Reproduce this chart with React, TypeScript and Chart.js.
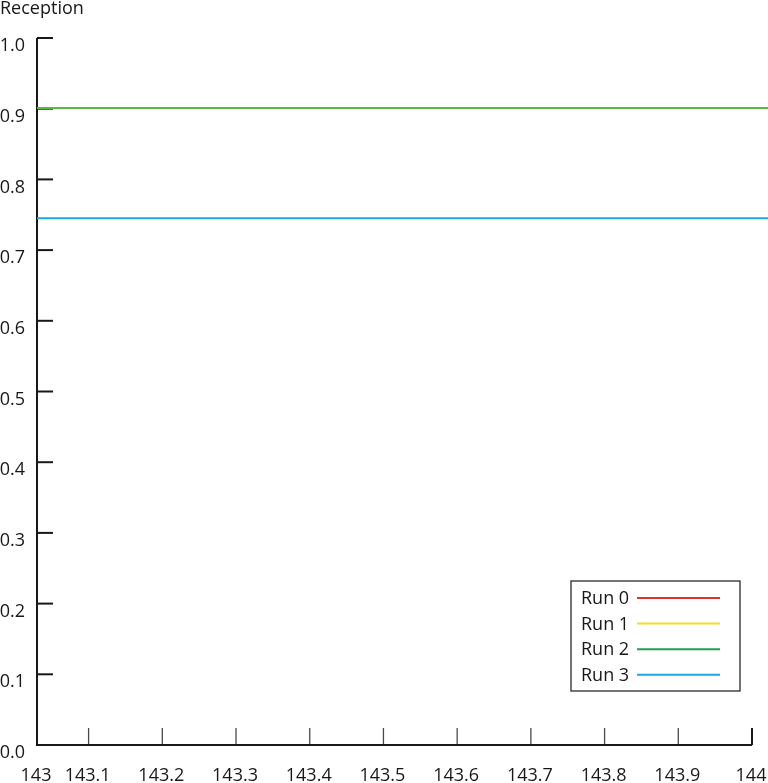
import { useEffect, useRef } from "react";
import { Chart, registerables } from "chart.js";

Chart.register(...registerables);

// axis starts a hair after 143 in the original figure, but is labelled "143"
const X_MIN = 143.03;
const X_MAX = 144;
const X_TICKS = [X_MIN, 143.1, 143.2, 143.3, 143.4, 143.5, 143.6, 143.7, 143.8, 143.9, 144];
const X_TICK_LABELS = ["143", "143.1", "143.2", "143.3", "143.4", "143.5", "143.6", "143.7", "143.8", "143.9", "144"];
const Y_TICKS = [0, 0.1, 0.2, 0.3, 0.4, 0.5, 0.6, 0.7, 0.8, 0.9, 1.0];

const RUN_LABELS = ["Run 0", "Run 1", "Run 2", "Run 3"];
const RUN_COLORS = ["#E2332B", "#F5DF1C", "#58BA3F", "#1AA9DF"];
const LEGEND_COLORS = ["#E2332B", "#F5DF1C", "#1EA24E", "#1AA9DF"];

// reception per run (runs 0 and 1 show no visible line)
const RUN_X = [143.03, 144.05];
const RUN0: number[] = [];
const RUN1: number[] = [];
const RUN2 = [0.901, 0.901];
const RUN3 = [0.745, 0.745];
const RUN_VALUES = [RUN0, RUN1, RUN2, RUN3];

const FONT = "'Open Sans', 'Noto Sans', sans-serif";
const INK = "#1a1718";

const axisPlugin = {
  id: "handAxes",
  beforeDatasetsDraw(chart: Chart) {
    const { ctx, scales } = chart;
    const xs = scales.x;
    const ys = scales.y;
    const left = xs.getPixelForValue(X_MIN);
    const right = xs.getPixelForValue(X_MAX);
    const bottom = ys.getPixelForValue(0);
    const top = ys.getPixelForValue(1);
    ctx.save();
    ctx.strokeStyle = INK;
    ctx.lineCap = "butt";

    // y ticks point into the plot
    ctx.lineWidth = 2;
    Y_TICKS.forEach(v => {
      if (v === 0) return;
      const y = ys.getPixelForValue(v);
      ctx.beginPath();
      ctx.moveTo(left, y);
      ctx.lineTo(left + 16, y);
      ctx.stroke();
    });

    // x ticks point up
    X_TICKS.forEach((v, i) => {
      if (i === 0) return;
      const x = xs.getPixelForValue(v);
      const last = i === X_TICKS.length - 1;
      ctx.lineWidth = last ? 2 : 1.3;
      ctx.strokeStyle = last ? INK : "#4a4a4a";
      ctx.beginPath();
      ctx.moveTo(x, bottom);
      ctx.lineTo(x, bottom - 17);
      ctx.stroke();
    });

    ctx.strokeStyle = INK;
    ctx.lineWidth = 2;
    ctx.beginPath();
    ctx.moveTo(left, top);
    ctx.lineTo(left, bottom);
    ctx.lineTo(right, bottom);
    ctx.stroke();
    ctx.restore();
  },
};

const legendPlugin = {
  id: "boxLegend",
  afterDraw(chart: Chart) {
    const { ctx, chartArea } = chart;
    const boxRight = chartArea.right - 12;
    const boxBottom = chartArea.bottom - 54;
    const boxW = 169;
    const boxH = 110;
    const boxLeft = boxRight - boxW;
    const boxTop = boxBottom - boxH;
    ctx.save();
    ctx.fillStyle = "#ffffff";
    ctx.fillRect(boxLeft, boxTop, boxW, boxH);
    ctx.strokeStyle = INK;
    ctx.lineWidth = 1.2;
    ctx.strokeRect(boxLeft, boxTop, boxW, boxH);
    ctx.font = `18px ${FONT}`;
    ctx.textBaseline = "middle";
    ctx.textAlign = "left";
    chart.data.datasets.forEach((ds, i) => {
      const y = boxTop + 17 + i * 25.6;
      ctx.fillStyle = INK;
      ctx.fillText(ds.label ?? "", boxLeft + 10, y + 1);
      ctx.strokeStyle = LEGEND_COLORS[i];
      ctx.lineWidth = 2;
      ctx.beginPath();
      ctx.moveTo(boxLeft + 66, y);
      ctx.lineTo(boxLeft + 149, y);
      ctx.stroke();
    });
    ctx.restore();
  },
};

export default function App() {
  const chartRef = useRef<HTMLCanvasElement>(null);
  const chartInstance = useRef<Chart | null>(null);

  useEffect(() => {
    document.body.style.margin = "0";
    if (!chartRef.current) return;
    if (chartInstance.current) {
      chartInstance.current.destroy();
    }
    const ctx = chartRef.current.getContext("2d");
    if (!ctx) return;

    chartInstance.current = new Chart(ctx, {
      type: "line",
      data: {
        datasets: RUN_LABELS.map((label, i) => ({
          label,
          data: RUN_VALUES[i].map((y, j) => ({ x: RUN_X[j], y })),
          borderColor: RUN_COLORS[i],
          backgroundColor: RUN_COLORS[i],
          borderWidth: 2,
          pointRadius: 0,
          clip: false,
          order: 3 - i,
        })),
      },
      plugins: [axisPlugin, legendPlugin],
      options: {
        responsive: true,
        maintainAspectRatio: false,
        animation: false,
        layout: { padding: { left: 0, right: 16, top: 0, bottom: 0 } },
        plugins: {
          legend: { display: false },
          tooltip: { enabled: false },
          title: {
            display: true,
            text: "Reception",
            align: "start",
            color: INK,
            font: { family: FONT, size: 18, weight: "normal", lineHeight: 1 },
            padding: { top: 0, bottom: 20 },
          },
        },
        scales: {
          x: {
            type: "linear",
            min: X_MIN,
            max: X_MAX,
            // tick marks are drawn by hand; tickLength only pushes labels down
            grid: { display: false, drawTicks: true, tickLength: 20 },
            border: { display: false },
            afterBuildTicks: (axis: any) => {
              axis.ticks = X_TICKS.map(value => ({ value }));
            },
            afterFit: (axis: any) => {
              axis.height = 38;
            },
            ticks: {
              autoSkip: false,
              maxRotation: 0,
              padding: 0,
              labelOffset: -1,
              color: INK,
              font: { family: FONT, size: 18 },
              callback: (_v: any, i: number) => X_TICK_LABELS[i],
            },
          },
          y: {
            type: "linear",
            min: 0,
            max: 1,
            grid: { display: false, drawTicks: false },
            border: { display: false },
            afterBuildTicks: (axis: any) => {
              axis.ticks = Y_TICKS.map(value => ({ value }));
            },
            afterFit: (axis: any) => {
              axis.width = 37;
            },
            ticks: {
              padding: 12,
              labelOffset: 8,
              color: INK,
              font: { family: FONT, size: 18 },
              callback: (v: any) => Number(v).toFixed(1),
            },
          },
        },
      },
    });

    return () => {
      if (chartInstance.current) {
        chartInstance.current.destroy();
        chartInstance.current = null;
      }
    };
  }, []);

  return (
    <div style={{ width: 768, height: 783, position: "relative" }}>
      <canvas ref={chartRef} />
    </div>
  );
}
